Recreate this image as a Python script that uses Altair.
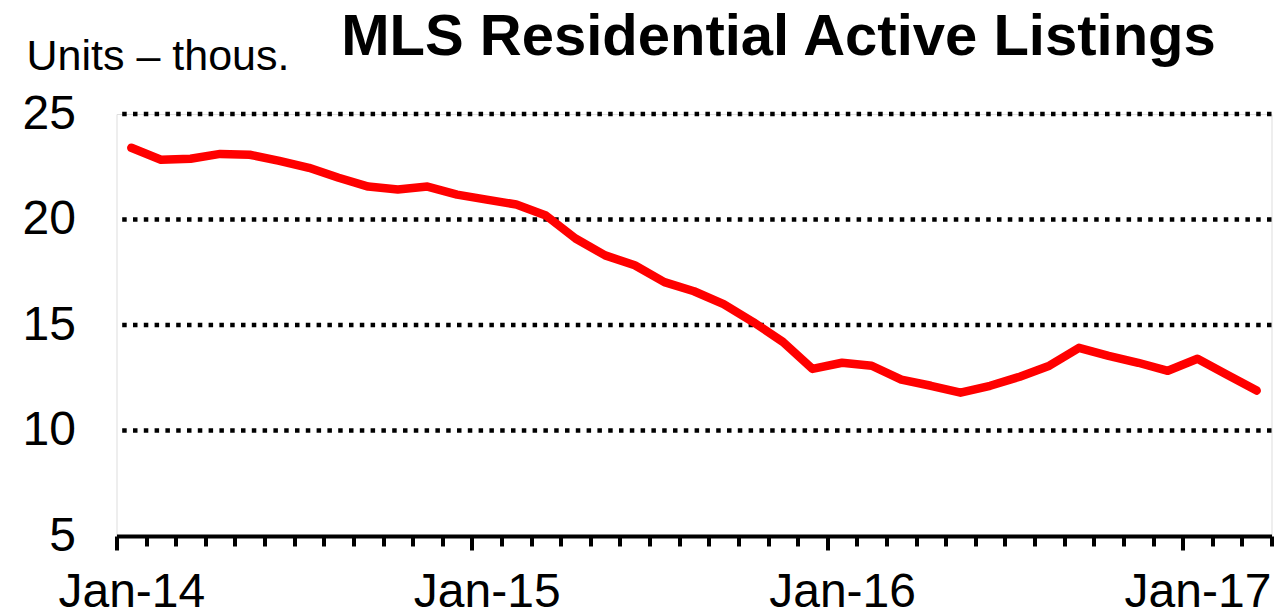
import altair as alt
import pandas as pd

# ---- data ----
months = [
    "Jan-14", "Feb-14", "Mar-14", "Apr-14", "May-14", "Jun-14", "Jul-14", "Aug-14", "Sep-14", "Oct-14", "Nov-14", "Dec-14",
    "Jan-15", "Feb-15", "Mar-15", "Apr-15", "May-15", "Jun-15", "Jul-15", "Aug-15", "Sep-15", "Oct-15", "Nov-15", "Dec-15",
    "Jan-16", "Feb-16", "Mar-16", "Apr-16", "May-16", "Jun-16", "Jul-16", "Aug-16", "Sep-16", "Oct-16", "Nov-16", "Dec-16",
    "Jan-17", "Feb-17", "Mar-17",
]
listings = [
    23.40, 22.83, 22.88, 23.11, 23.07, 22.78, 22.45, 21.98, 21.56, 21.42, 21.56, 21.18,
    20.94, 20.71, 20.19, 19.10, 18.30, 17.83, 17.03, 16.60, 15.99, 15.14, 14.20, 12.92,
    13.21, 13.07, 12.41, 12.12, 11.79, 12.12, 12.55, 13.07, 13.92, 13.54, 13.21, 12.83,
    13.40, 12.64, 11.89,
]
grid_values = [10, 15, 20, 25]
y_ticks = [5, 10, 15, 20, 25]
x_labels = ["Jan-14", "Jan-15", "Jan-16", "Jan-17"]

FONT = "Liberation Sans"
W, H = 1155, 422
n = len(months)

df = pd.DataFrame({"idx": list(range(n)), "month": months, "value": listings})
grid_df = pd.DataFrame({"g": grid_values})

# category boundaries (Excel-style ticks between categories)
bounds = [i - 0.5 for i in range(n + 1)]
label_expr = "''"
for lab in x_labels:
    pos = months.index(lab) - 0.5
    label_expr = f"(abs(datum.value - ({pos})) < 0.01) ? '{lab}' : ({label_expr})"

x_scale = alt.Scale(domain=[-0.5, n - 0.5], nice=False, zero=False)
y_scale = alt.Scale(domain=[5, 25], nice=False, zero=False)

x_axis = alt.Axis(
    values=bounds,
    labelExpr=label_expr,
    labelOffset=W / n / 2,
    labelFont=FONT,
    labelFontSize=48,
    labelColor="black",
    labelPadding=18.5,
    labelAngle=0,
    labelFlush=False,
    labelOverlap=False,
    labelBound=False,
    tickColor="black",
    tickWidth=4,
    tickSize={"condition": {"test": "abs((datum.value + 0.5) % 12) < 0.01", "value": 14}, "value": 10},
    domainColor="black",
    domainWidth=4,
    grid=False,
    title=None,
)

y_axis = alt.Axis(
    values=y_ticks,
    grid=False,
    ticks=False,
    domain=False,
    labelFont=FONT,
    labelFontSize=48,
    labelColor="black",
    labelPadding=41,
    title="Units – thous.",
    titleFont=FONT,
    titleFontSize=43,
    titleFontWeight="normal",
    titleColor="black",
    titleAngle=0,
    titleAlign="left",
    titleBaseline="alphabetic",
    titleX=-90.5,
    titleY=-45,
)

grid = alt.Chart(grid_df).mark_rule(
    color="black", strokeWidth=4.5, strokeDash=[4.5, 6.3], strokeCap="butt"
).encode(
    y=alt.Y("g:Q", scale=y_scale, axis=y_axis)
)

line = alt.Chart(df).mark_line(
    color="#FF0000", strokeWidth=8.5, strokeCap="round", strokeJoin="round"
).encode(
    x=alt.X("idx:Q", scale=x_scale, axis=x_axis),
    y=alt.Y("value:Q", scale=y_scale, axis=y_axis),
    tooltip=["month", "value"],
)

chart = alt.layer(grid, line).properties(
    width=W,
    height=H,
    padding={"left": 108.5, "top": 106, "right": 5, "bottom": 78},
    autosize=alt.AutoSizeParams(type="none"),
    title=alt.TitleParams(
        text="MLS Residential Active Listings",
        font=FONT,
        fontSize=58,
        fontWeight="bold",
        color="black",
        anchor="middle",
        frame="group",
        baseline="alphabetic",
        offset=0,
        dx=84.5,
        dy=78,
    ),
).configure_view(stroke=None).configure(background="white")

chart.save("out.html", embed_options={"renderer": "svg", "actions": False})
